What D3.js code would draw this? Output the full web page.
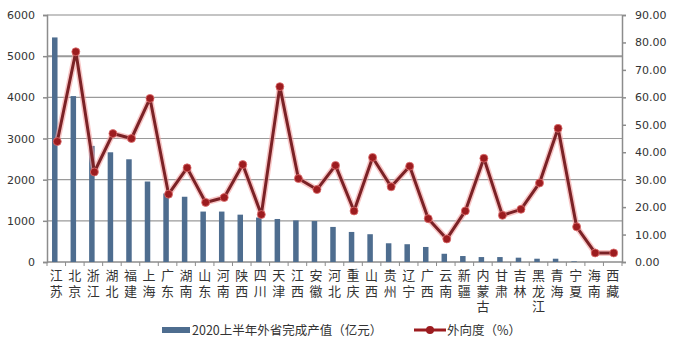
<!DOCTYPE html>
<html lang="zh">
<head>
<meta charset="UTF-8">
<title>外省完成产值与外向度</title>
<script src="https://d3js.org/d3.v7.min.js"></script>
<style>
    body { margin: 0; background: #fff; }
    text { font-family: "Noto Sans CJK SC", "DejaVu Sans", sans-serif; fill: #333; }
    .xlab { writing-mode: vertical-rl; text-orientation: upright; letter-spacing: 2.5px; }
</style>
</head>
<body>
<script>
    var provinces = ["江苏", "北京", "浙江", "湖北", "福建", "上海", "广东", "湖南", "山东", "河南",
        "陕西", "四川", "天津", "江西", "安徽", "河北", "重庆", "山西", "贵州", "辽宁",
        "广西", "云南", "新疆", "内蒙古", "甘肃", "吉林", "黑龙江", "青海", "宁夏", "海南", "西藏"]

    // 2020上半年外省完成产值（亿元）
    var output = [5455, 4030, 2820, 2665, 2495, 1955, 1665, 1585, 1225, 1225,
        1150, 1080, 1045, 1010, 995, 852, 730, 675, 455, 432,
        365, 200, 145, 120, 120, 105, 80, 80, 15, 0, 0]

    // 外向度（%）
    var outward = [43.9, 76.6, 32.8, 46.8, 45.0, 59.6, 24.7, 34.3, 21.7, 23.5,
        35.5, 17.3, 63.9, 30.4, 26.4, 35.2, 18.6, 38.1, 27.4, 34.9,
        15.8, 8.4, 18.6, 37.8, 17.0, 19.2, 28.8, 48.7, 12.8, 3.3, 3.3]

    var leftTicks = [0, 1000, 2000, 3000, 4000, 5000, 6000]
    var rightTicks = [0, 10, 20, 30, 40, 50, 60, 70, 80, 90]

    var width = 678, height = 352
    var pLeft = 47, pRight = 622, pTop = 15, pBottom = 262

    var svg = d3.select("body").append("svg")
        .attr("width", width)
        .attr("height", height)

    var x = d3.scaleBand().domain(provinces).range([pLeft, pRight])
    var yL = d3.scaleLinear().domain([0, 6000]).range([pBottom, pTop])
    var yR = d3.scaleLinear().domain([0, 90]).range([pBottom, pTop])

    // gridlines
    svg.append("g").selectAll("line")
        .data(leftTicks.slice(1))
        .join("line")
        .attr("x1", pLeft).attr("x2", pRight)
        .attr("y1", d => yL(d)).attr("y2", d => yL(d))
        .attr("stroke", d => d == 6000 ? "#c4c4c4" : "#9a9a9a")
        .attr("stroke-width", d => (d == 6000 || d == 5000) ? 2 : 1.2)

    // left axis
    var gL = svg.append("g").attr("transform", "translate(" + pLeft + ",0)")
        .call(d3.axisLeft(yL).tickValues(leftTicks).tickSize(4).tickPadding(8)
            .tickFormat(d3.format("d")))
    gL.selectAll("text").attr("font-size", "11px").style("font-family", "DejaVu Sans, sans-serif")

    // right axis
    var gR = svg.append("g").attr("transform", "translate(" + pRight + ",0)")
        .call(d3.axisRight(yR).tickValues(rightTicks).tickSize(4).tickPadding(9)
            .tickFormat(d3.format(".2f")))
    gR.selectAll("text").attr("font-size", "11px").style("font-family", "DejaVu Sans, sans-serif")

    // bottom axis line + ticks between categories
    svg.append("line")
        .attr("x1", pLeft).attr("x2", pRight)
        .attr("y1", pBottom).attr("y2", pBottom)
        .attr("stroke", "#8c8c8c").attr("stroke-width", 1.5)
    svg.append("g").selectAll("line")
        .data(d3.range(provinces.length + 1))
        .join("line")
        .attr("x1", i => pLeft + i * x.step()).attr("x2", i => pLeft + i * x.step())
        .attr("y1", pBottom).attr("y2", pBottom + 4)
        .attr("stroke", "#8c8c8c")

    svg.selectAll(".domain, .tick line").attr("stroke", "#8c8c8c").attr("stroke-width", 1.5)

    // bars
    var barW = 5.5
    svg.append("g").selectAll("rect")
        .data(output)
        .join("rect")
        .attr("x", (d, i) => x(provinces[i]) + x.bandwidth() / 2 - barW / 2 - 1.5)
        .attr("y", d => yL(d))
        .attr("width", barW)
        .attr("height", d => yL(0) - yL(d))
        .attr("fill", "#4e6d8f")

    // x labels, written top to bottom
    svg.append("g").selectAll("text")
        .data(provinces)
        .join("text")
        .attr("class", "xlab")
        .attr("x", d => x(d) + x.bandwidth() / 2)
        .attr("y", 269)
        .attr("font-size", "13px")
        .text(d => d)

    // line with glow
    var line = d3.line()
        .x((d, i) => x(provinces[i]) + x.bandwidth() / 2 + 1)
        .y(d => yR(d))

    svg.append("path")
        .attr("d", line(outward))
        .attr("fill", "none")
        .attr("stroke", "#f4a0a0")
        .attr("stroke-width", 6)
        .attr("stroke-linejoin", "round")
        .attr("opacity", 0.6)
    svg.append("path")
        .attr("d", line(outward))
        .attr("fill", "none")
        .attr("stroke", "#7b2226")
        .attr("stroke-width", 3)
        .attr("stroke-linejoin", "round")

    svg.append("g").selectAll("circle")
        .data(outward)
        .join("circle")
        .attr("cx", (d, i) => x(provinces[i]) + x.bandwidth() / 2 + 1)
        .attr("cy", d => yR(d))
        .attr("r", 4)
        .attr("fill", "#9c1c1f")
        .attr("stroke", "#e07070")
        .attr("stroke-width", 0.8)

    // legend
    var lg = svg.append("g")
    lg.append("rect")
        .attr("x", 162).attr("y", 327)
        .attr("width", 28).attr("height", 6)
        .attr("fill", "#4e6d8f")
    lg.append("text")
        .attr("x", 192).attr("y", 335)
        .attr("font-size", "12.5px")
        .text("2020上半年外省完成产值（亿元）")
    lg.append("line")
        .attr("x1", 414).attr("x2", 446)
        .attr("y1", 330).attr("y2", 330)
        .attr("stroke", "#9c1c1f").attr("stroke-width", 3)
    lg.append("circle")
        .attr("cx", 430).attr("cy", 330).attr("r", 4)
        .attr("fill", "#9c1c1f")
    lg.append("text")
        .attr("x", 447).attr("y", 335)
        .attr("font-size", "12.5px")
        .text("外向度（%）")
</script>
</body>
</html>
